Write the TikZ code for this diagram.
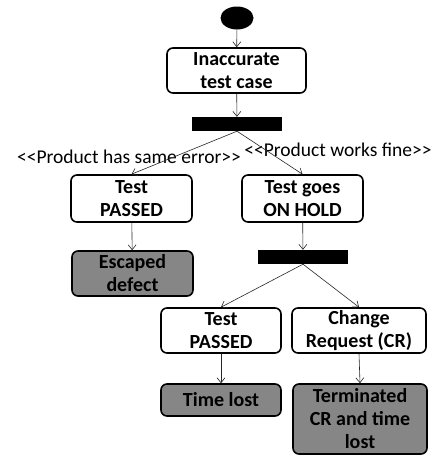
\documentclass[tikz,border=0pt]{standalone}
\usepackage{fontspec}
\setmainfont{Carlito}
\usetikzlibrary{shapes.geometric,arrows.meta}
\begin{document}
\begin{tikzpicture}[x=1pt,y=-1pt,
  state/.style={draw=black,line width=1.6pt,rounded corners=6pt,fill=white,
    align=center,inner sep=0pt,font=\fontsize{20}{23}\selectfont\bfseries},
  final/.style={state,fill=gray!95},
  bar/.style={fill=black,draw=none,inner sep=0pt},
  flow/.style={draw=black!85,line width=0.6pt,-{Straight Barb[length=5pt,width=8pt]}},
  guard/.style={font=\fontsize{19.5}{23}\selectfont,inner sep=0pt}]
\useasboundingbox (0,0) rectangle (447,455);

% initial state
\node[ellipse,fill=black,minimum width=33pt,minimum height=23pt,inner sep=0pt] (start) at (237,18) {};

% activities
\node[state,minimum width=139pt,minimum height=45pt] (itc) at (236.5,70.5) {Inaccurate\\test case};
\node[bar,minimum width=90pt,minimum height=14pt] (bar1) at (237,124) {};
\node[state,minimum width=121pt,minimum height=47pt] (tp1) at (131.5,198.5) {Test\\PASSED};
\node[state,minimum width=121pt,minimum height=47pt] (hold) at (302.5,198.5) {Test goes\\ON HOLD};
\node[final,minimum width=121pt,minimum height=45pt] (esc) at (132.5,273.5) {Escaped\\defect};
\node[bar,minimum width=90pt,minimum height=14pt] (bar2) at (303,257) {};
\node[state,minimum width=120pt,minimum height=45pt] (tp2) at (221,330.5) {Test\\PASSED};
\node[state,minimum width=134pt,minimum height=45pt] (cr) at (359,330.5) {Change\\Request (CR)};
\node[final,minimum width=120pt,minimum height=32pt] (tl) at (221,400) {Time lost};
\node[final,minimum width=134pt,minimum height=70pt] (term) at (360,419) {Terminated\\CR and time\\lost};

% guards
\node[guard] (g1) at (129,157) {<{}<Product has same error>{}>};
\node[guard] (g2) at (338,150) {<{}<Product works fine>{}>};

% transitions
\draw[flow] (start) -- (itc);
\draw[flow] (itc) -- (bar1);
\draw[flow] (bar1.south) -- (tp1.north);
\draw[flow] (bar1.south) -- (hold.north);
\draw[flow] (tp1) -- (esc);
\draw[flow] (hold) -- (bar2);
\draw[flow] (bar2.south) -- (tp2.north);
\draw[flow] (bar2.south) -- (cr.north);
\draw[flow] (tp2) -- (tl);
\draw[flow] (cr.south) -- (term.north);
\end{tikzpicture}
\end{document}
